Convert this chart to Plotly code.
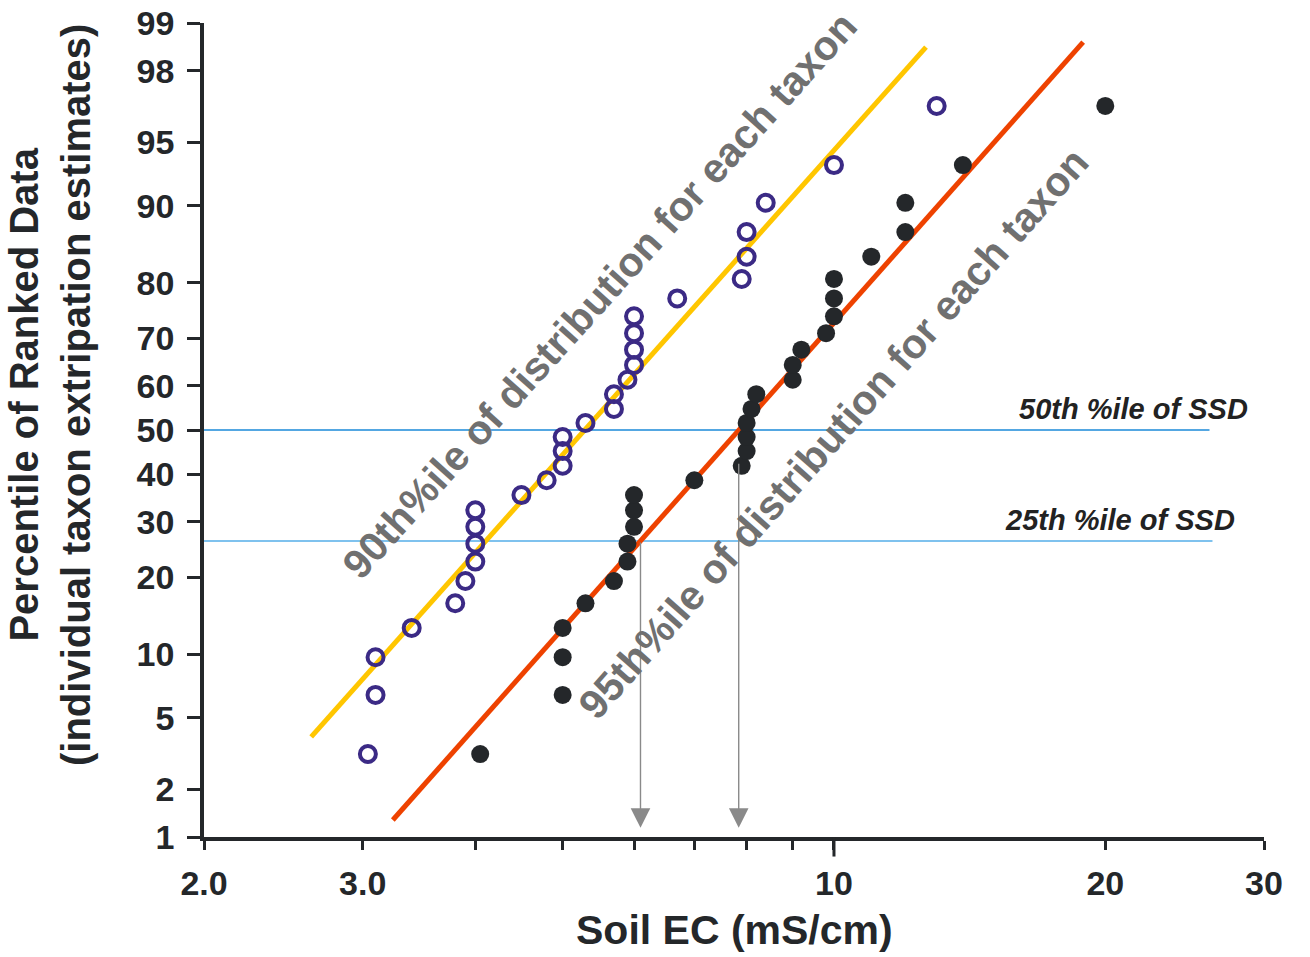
import math
from statistics import NormalDist
import plotly.graph_objects as go

# ---------------- data ----------------
pct_rank = [3.2, 6.5, 9.7, 12.9, 16.1, 19.4, 22.6, 25.8, 29.0, 32.3,
            35.5, 38.7, 41.9, 45.2, 48.4, 51.6, 54.8, 58.1, 61.3, 64.5,
            67.7, 71.0, 74.2, 77.4, 80.6, 83.9, 87.1, 90.3, 93.5, 96.8]
ec_90th = [3.04, 3.1, 3.1, 3.4, 3.8, 3.9, 4.0, 4.0, 4.0, 4.0,
           4.5, 4.8, 5.0, 5.0, 5.0, 5.3, 5.7, 5.7, 5.9, 6.0,
           6.0, 6.0, 6.0, 6.7, 7.9, 8.0, 8.0, 8.4, 10.0, 13.0]
ec_95th = [4.05, 5.0, 5.0, 5.0, 5.3, 5.7, 5.9, 5.9, 6.0, 6.0,
           6.0, 7.0, 7.9, 8.0, 8.0, 8.0, 8.1, 8.2, 9.0, 9.0,
           9.2, 9.8, 10.0, 10.0, 10.0, 11.0, 12.0, 12.0, 13.9, 20.0]

fit90_ec = [2.63, 12.65]
fit90_pct = [3.97, 98.57]
fit95_ec = [3.24, 18.9]
fit95_pct = [1.29, 98.67]

ssd_pcts = [50.0, 26.3]
ssd_labels = ["50th %ile of SSD", "25th %ile of SSD"]
ssd_end_ec = [26.1, 26.3]

arrow_ec = [6.1, 7.84]
arrow_start_pct = [26.3, 42.7]
arrow_end_pct = [1.15, 1.15]

y_tick_pcts = [1, 2, 5, 10, 20, 30, 40, 50, 60, 70, 80, 90, 95, 98, 99]
x_tick_vals = [2, 3, 4, 5, 6, 7, 8, 9, 10, 20, 30]
x_tick_text = ["2.0", "3.0", "", "", "", "", "", "", "10", "20", "30"]

nd = NormalDist()


def probit(p):
    return nd.inv_cdf(p / 100.0)


FONT = "Liberation Sans, Arial, sans-serif"
DARK = "#24272a"

fig = go.Figure()

fig.add_trace(go.Scatter(x=fit90_ec, y=[probit(p) for p in fit90_pct], mode="lines",
                         line=dict(color="#ffc600", width=5), hoverinfo="skip"))
fig.add_trace(go.Scatter(x=fit95_ec, y=[probit(p) for p in fit95_pct], mode="lines",
                         line=dict(color="#ee4200", width=5), hoverinfo="skip"))
fig.add_trace(go.Scatter(x=ec_90th, y=[probit(p) for p in pct_rank], mode="markers",
                         marker=dict(symbol="circle-open", size=16, color="#3b2a85",
                                     line=dict(width=4, color="#3b2a85"))))
fig.add_trace(go.Scatter(x=ec_95th, y=[probit(p) for p in pct_rank], mode="markers",
                         marker=dict(symbol="circle", size=18, color=DARK)))

shapes = []
# SSD horizontal lines
for p, xe, col, w in zip(ssd_pcts, ssd_end_ec, ["#1b8ad8", "#7fc2ee"], [1.5, 2]):
    shapes.append(dict(type="line", xref="x", yref="y", x0=2, x1=xe,
                       y0=probit(p), y1=probit(p), line=dict(color=col, width=w), layer="below"))
# long tick at 10 and y-axis extension
shapes.append(dict(type="line", xref="x", yref="paper", x0=10, x1=10, y0=0, y1=-0.024,
                   line=dict(color=DARK, width=3)))
shapes.append(dict(type="line", xref="x", yref="paper", x0=2, x1=2, y0=0, y1=-0.013,
                   line=dict(color=DARK, width=3.5)))

annotations = []
for xe, y0p, y1p in zip(arrow_ec, arrow_start_pct, arrow_end_pct):
    annotations.append(dict(x=math.log10(xe), y=probit(y1p), ax=math.log10(xe), ay=probit(y0p),
                            xref="x", yref="y", axref="x", ayref="y", text="", showarrow=True,
                            arrowhead=2, arrowsize=2.8, arrowwidth=1.4, arrowcolor="#8a8a8a"))

for lab, p, xr in zip(ssd_labels, ssd_pcts, [1250, 1237]):
    annotations.append(dict(text="<b><i>" + lab + "</i></b>", xref="paper", yref="y",
                            x=(xr - 204) / 1060, y=probit(p), xanchor="right", yanchor="bottom",
                            yshift=3, showarrow=False,
                            font=dict(family=FONT, size=29, color="#222222")))

annotations.append(dict(text="<b>90th%ile of distribution for each taxon</b>",
                        xref="x", yref="y", x=math.log10(5.50), y=probit(78.0),
                        xanchor="center", yanchor="middle",
                        textangle=-48, showarrow=False,
                        font=dict(family=FONT, size=41, color="#707070")))
annotations.append(dict(text="<b>95th%ile of distribution for each taxon</b>",
                        xref="x", yref="y", x=math.log10(10.0), y=probit(49.3),
                        xanchor="center", yanchor="middle",
                        textangle=-48.5, showarrow=False,
                        font=dict(family=FONT, size=41, color="#707070")))

# axis titles
annotations.append(dict(text="<b>Soil EC (mS/cm)</b>", xref="paper", yref="paper",
                        x=(734 - 204) / 1060, y=-(930 - 837) / 814,
                        xanchor="center", yanchor="middle", showarrow=False,
                        font=dict(family=FONT, size=41, color=DARK)))
annotations.append(dict(text="<b>Percentile of Ranked Data<br>(individual taxon extripation estimates)</b>",
                        xref="paper", yref="paper", x=-(204 - 50) / 1060, y=(837 - 395) / 814,
                        xanchor="center", yanchor="middle",
                        textangle=-90, showarrow=False,
                        font=dict(family=FONT, size=40, color=DARK)))

fig.update_layout(
    width=1310, height=957,
    margin=dict(l=204, r=46, t=23, b=120, autoexpand=False),
    paper_bgcolor="white", plot_bgcolor="white",
    showlegend=False,
    shapes=shapes, annotations=annotations,
    font=dict(family=FONT, color=DARK),
)
fig.update_xaxes(type="log", range=[math.log10(2), math.log10(30)],
                 tickvals=x_tick_vals, ticktext=x_tick_text, automargin=False,
                 ticks="outside", ticklen=9, tickwidth=3, tickcolor=DARK,
                 showline=True, linewidth=3.5, linecolor=DARK, showgrid=False, zeroline=False,
                 tickfont=dict(family=FONT, size=34, color=DARK, weight="bold"),
                 ticklabelstandoff=4)
fig.update_yaxes(range=[probit(1), probit(99)], automargin=False,
                 tickvals=[probit(p) for p in y_tick_pcts], ticktext=[str(p) for p in y_tick_pcts],
                 ticks="outside", ticklen=13, tickwidth=3, tickcolor=DARK,
                 showline=True, linewidth=3.5, linecolor=DARK, showgrid=False, zeroline=False,
                 tickfont=dict(family=FONT, size=34, color=DARK, weight="bold"),
                 ticklabelstandoff=6)

fig.write_html("out.html")
